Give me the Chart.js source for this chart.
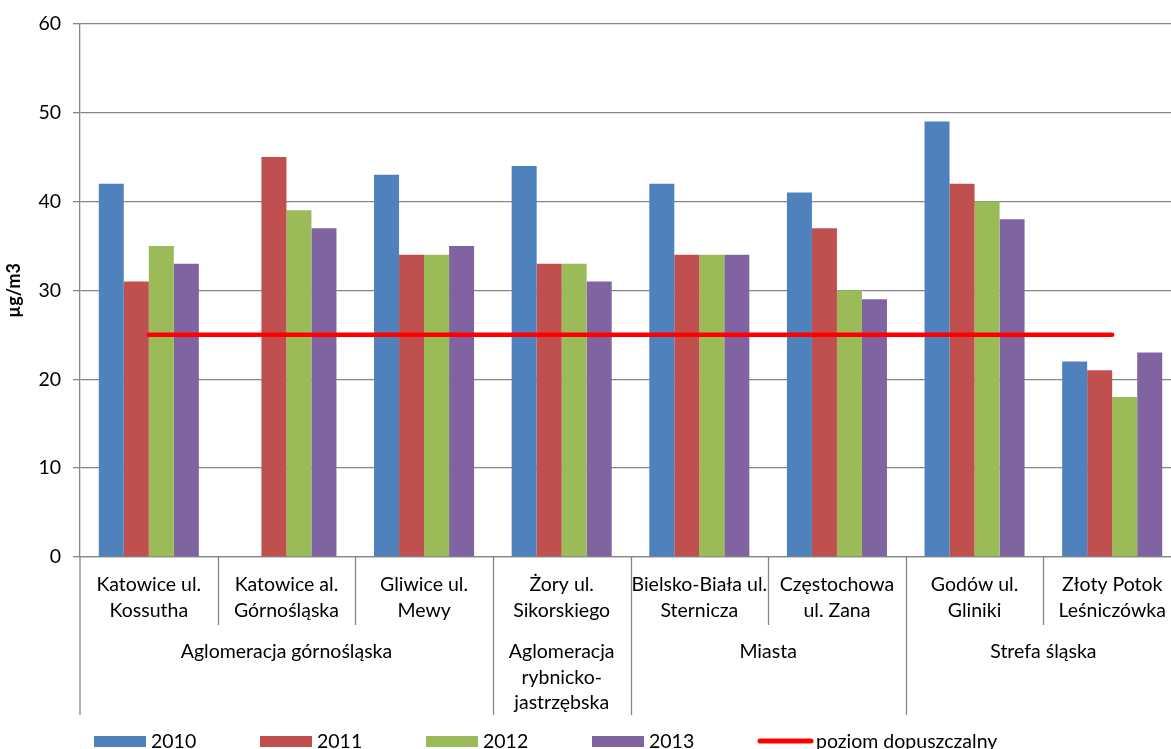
<!DOCTYPE html>
<html>
<head>
<meta charset="utf-8">
<script src="https://cdn.jsdelivr.net/npm/chart.js@4.4.0/dist/chart.umd.min.js"></script>
<style>
  html, body { margin: 0; padding: 0; background: #fff; overflow: hidden; }
  #wrap { width: 1171px; height: 749px; overflow: hidden; position: relative; }
  canvas { display: block; }
</style>
</head>
<body>
<div id="wrap"><canvas id="c" width="1190" height="760"></canvas></div>
<script>
const categories = [
  ['Katowice ul.', 'Kossutha'],
  ['Katowice al.', 'Górnośląska'],
  ['Gliwice ul.', 'Mewy'],
  ['Żory ul.', 'Sikorskiego'],
  ['Bielsko-Biała ul.', 'Sternicza'],
  ['Częstochowa', 'ul. Zana'],
  ['Godów ul.', 'Gliniki'],
  ['Złoty Potok', 'Leśniczówka']
];
const groups = [
  { label: ['Aglomeracja górnośląska'], from: 0, to: 2 },
  { label: ['Aglomeracja', 'rybnicko-', 'jastrzębska'], from: 3, to: 3 },
  { label: ['Miasta'], from: 4, to: 5 },
  { label: ['Strefa śląska'], from: 6, to: 7 }
];
const v2010 = [42, null, 43, 44, 42, 41, 49, 22];
const v2011 = [31, 45, 34, 33, 34, 37, 42, 21];
const v2012 = [35, 39, 34, 33, 34, 30, 40, 18];
const v2013 = [33, 37, 35, 31, 34, 29, 38, 23];
const limit = [25, 25, 25, 25, 25, 25, 25, 25];
const yTicks = [0, 10, 20, 30, 40, 50, 60];

const FONT = 'Lato, "Noto Sans", sans-serif';
const GRID = '#868686';
const FS = 19.5;

const multiLevel = {
  id: 'multiLevel',
  afterDraw(chart) {
    const ctx = chart.ctx;
    const xs = chart.scales.x;
    const area = chart.chartArea;
    const n = categories.length;
    const center = i => xs.getPixelForValue(i);
    const half = (center(1) - center(0)) / 2;
    const groupStarts = groups.map(g => g.from);
    ctx.save();
    ctx.strokeStyle = GRID;
    ctx.lineWidth = 1.3;
    ctx.beginPath();
    ctx.moveTo(area.left, area.bottom);
    ctx.lineTo(area.left, 715);
    ctx.stroke();
    for (let i = 1; i < n; i++) {
      const x = Math.round(center(i) - half) + 0.5;
      const yEnd = groupStarts.includes(i) ? 715 : 625;
      ctx.beginPath();
      ctx.moveTo(x, area.bottom);
      ctx.lineTo(x, yEnd);
      ctx.stroke();
    }
    ctx.fillStyle = '#000';
    ctx.font = FS + 'px ' + FONT;
    ctx.textAlign = 'center';
    ctx.textBaseline = 'middle';
    categories.forEach((lines, i) => {
      lines.forEach((t, k) => ctx.fillText(t, center(i), 585 + k * 25.5));
    });
    groups.forEach(g => {
      const cx = (center(g.from) + center(g.to)) / 2;
      g.label.forEach((t, k) => ctx.fillText(t, cx, 652 + k * 25.5));
    });
    // legend
    const ds = chart.data.datasets;
    const step = 166;
    const ly = 741;
    ds.forEach((d, i) => {
      const x0 = 94 + i * step;
      if (d.type === 'line') {
        ctx.strokeStyle = d.borderColor;
        ctx.lineWidth = 5;
        ctx.lineCap = 'round';
        ctx.beginPath();
        ctx.moveTo(x0 + 2, ly);
        ctx.lineTo(x0 + 53, ly);
        ctx.stroke();
        ctx.fillStyle = '#000';
        ctx.textAlign = 'left';
        ctx.fillText(d.label, x0 + 58, ly + 1);
      } else {
        ctx.fillStyle = d.backgroundColor;
        ctx.fillRect(x0, ly - 5, 52, 11);
        ctx.fillStyle = '#000';
        ctx.textAlign = 'left';
        ctx.fillText(d.label, x0 + 57, ly + 1);
      }
    });
    ctx.restore();
  }
};

new Chart(document.getElementById('c'), {
  data: {
    labels: categories,
    datasets: [
      { type: 'bar', label: '2010', data: v2010, backgroundColor: '#4F81BD', order: 1 },
      { type: 'bar', label: '2011', data: v2011, backgroundColor: '#C0504D', order: 1 },
      { type: 'bar', label: '2012', data: v2012, backgroundColor: '#9BBB59', order: 1 },
      { type: 'bar', label: '2013', data: v2013, backgroundColor: '#8064A2', order: 1 },
      { type: 'line', label: 'poziom dopuszczalny', data: limit, borderColor: '#FF0000', backgroundColor: '#FF0000',
        borderWidth: 4.5, pointRadius: 0, borderCapStyle: 'round', order: 0 }
    ]
  },
  options: {
    responsive: false,
    animation: false,
    devicePixelRatio: 1,
    layout: { padding: { top: 22, right: 9, bottom: 0, left: 0 } },
    datasets: { bar: { categoryPercentage: 0.727, barPercentage: 1.0, borderWidth: 0 } },
    plugins: { legend: { display: false }, tooltip: { enabled: false } },
    scales: {
      x: {
        offset: true,
        grid: { display: false },
        border: { display: true, color: GRID, width: 1.3 },
        ticks: { display: false },
        afterFit(s) { s.height = 203; }
      },
      y: {
        min: 0, max: 60,
        afterBuildTicks(s) { s.ticks = yTicks.map(v => ({ value: v })); },
        grid: { color: GRID, lineWidth: 1.3, tickLength: 7 },
        border: { color: GRID, width: 1.3 },
        ticks: { padding: 12, color: '#000', font: { family: FONT, size: FS } },
        title: { display: true, text: 'µg/m3', color: '#000', padding: { top: 3, bottom: 0 },
                 font: { family: FONT, size: 18, weight: 'bold' } },
        afterFit(s) { s.width = 80; }
      }
    }
  },
  plugins: [multiLevel]
});
</script>
</body>
</html>
